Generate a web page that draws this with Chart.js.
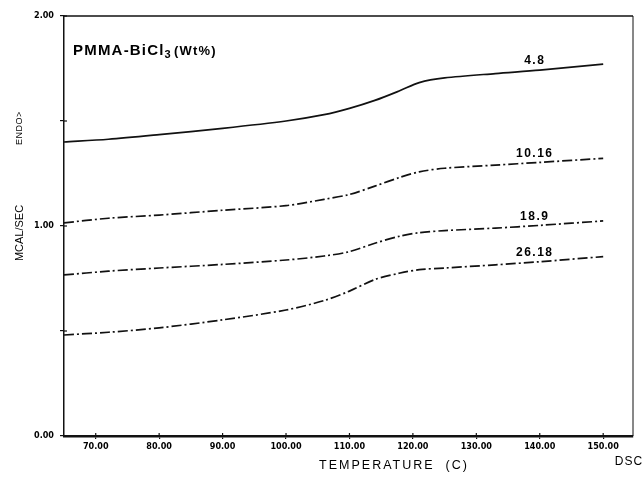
<!DOCTYPE html>
<html>
<head>
<meta charset="utf-8">
<script src="https://cdn.jsdelivr.net/npm/chart.js@4/dist/chart.umd.min.js"></script>
<style>
  html, body { margin: 0; padding: 0; background: #fff; }
  #wrap { width: 643px; height: 484px; }
</style>
</head>
<body>
<div id="wrap"><canvas id="c" width="643" height="484"></canvas></div>
<script>
// ---- Data ----
const temps = [65, 72, 80, 90, 100, 106, 110, 114, 118, 121, 125, 133, 140, 150];
const seriesNames = ['4.8', '10.16', '18.9', '26.18'];
const s4_8   = [1.400, 1.413, 1.435, 1.465, 1.500, 1.530, 1.560, 1.598, 1.645, 1.683, 1.705, 1.726, 1.742, 1.771];
const s10_16 = [1.015, 1.037, 1.052, 1.075, 1.097, 1.127, 1.150, 1.190, 1.232, 1.258, 1.275, 1.290, 1.303, 1.322];
const s18_9  = [0.767, 0.785, 0.800, 0.817, 0.838, 0.857, 0.878, 0.918, 0.952, 0.968, 0.978, 0.990, 1.003, 1.024];
const s26_18 = [0.481, 0.494, 0.515, 0.553, 0.600, 0.645, 0.690, 0.745, 0.776, 0.792, 0.800, 0.815, 0.830, 0.854];
const xTicks = [70, 80, 90, 100, 110, 120, 130, 140, 150];
const yTicks = [0, 0.5, 1.0, 1.5, 2.0];
const yLabelled = [0, 1.0, 2.0];
const titleMain = 'PMMA-BiCl';
const titleSub = '3';
const titleTail = '(Wt%)';
const xTitle = 'TEMPERATURE  (C)';
const yTitle = 'MCAL/SEC';
const yTitle2 = 'ENDO>';
const cornerText = 'DSC';

const allSeries = [s4_8, s10_16, s18_9, s26_18];
const dashes = [[], [10, 3, 2, 3], [10, 3, 2, 3], [10, 3, 2, 3]];
const labelIndex = 12;

const datasets = allSeries.map((vals, i) => ({
  label: seriesNames[i],
  data: temps.map((t, k) => ({ x: t, y: vals[k] })),
  borderColor: '#111',
  borderWidth: 1.7,
  borderDash: dashes[i],
  pointRadius: 0,
  fill: false,
  tension: 0.3
}));

const tickFont = { family: "'DejaVu Sans Condensed', 'Liberation Sans Narrow', sans-serif", size: 9, weight: 'bold' };

const decor = {
  id: 'decor',
  afterDraw(chart) {
    const ctx = chart.ctx;
    const a = chart.chartArea;
    const xs = chart.scales.x, ys = chart.scales.y;
    ctx.save();
    ctx.strokeStyle = '#111';
    // top and right frame
    ctx.lineWidth = 1.5;
    ctx.beginPath();
    ctx.moveTo(a.left, a.top); ctx.lineTo(a.right, a.top);
    ctx.stroke();
    ctx.lineWidth = 1;
    ctx.beginPath();
    ctx.moveTo(a.right, a.top); ctx.lineTo(a.right, a.bottom);
    ctx.stroke();
    // inner tick marks on y axis
    ctx.lineWidth = 1.2;
    yTicks.forEach(v => {
      const y = ys.getPixelForValue(v);
      ctx.beginPath(); ctx.moveTo(a.left, y); ctx.lineTo(a.left + 3, y); ctx.stroke();
    });
    // inner tick marks on x axis
    xTicks.forEach(v => {
      const x = xs.getPixelForValue(v);
      ctx.beginPath(); ctx.moveTo(x, a.bottom); ctx.lineTo(x, a.bottom - 3); ctx.stroke();
    });

    ctx.fillStyle = '#000';
    // title
    ctx.textBaseline = 'alphabetic';
    ctx.textAlign = 'left';
    ctx.font = "bold 15px 'Liberation Sans', Arial, sans-serif";
    ctx.letterSpacing = '1.2px';
    let tx = 73, ty = 55;
    ctx.fillText(titleMain, tx, ty);
    tx += ctx.measureText(titleMain).width;
    ctx.font = "bold 11px 'Liberation Sans', Arial, sans-serif";
    ctx.fillText(titleSub, tx, ty + 3);
    tx += ctx.measureText(titleSub).width + 2;
    ctx.font = "bold 13px 'Liberation Sans', Arial, sans-serif";
    ctx.fillText(titleTail, tx, ty);

    // series labels
    ctx.font = "bold 12px 'Liberation Sans', Arial, sans-serif";
    ctx.letterSpacing = '1.5px';
    ctx.textAlign = 'center';
    ctx.textBaseline = 'middle';
    allSeries.forEach((vals, i) => {
      const x = xs.getPixelForValue(temps[labelIndex]) - 5;
      const y = ys.getPixelForValue(vals[labelIndex]) - 9;
      ctx.fillText(seriesNames[i], x, y);
    });

    // axis titles
    ctx.font = "12.5px 'Liberation Sans', Arial, sans-serif";
    ctx.letterSpacing = '2px';
    ctx.fillText(xTitle, 394, 466);
    ctx.font = "12px 'Liberation Sans', Arial, sans-serif";
    ctx.letterSpacing = '1px';
    ctx.fillText(cornerText, 629, 462);

    ctx.save();
    ctx.translate(20, 233);
    ctx.rotate(-Math.PI / 2);
    ctx.font = "11px 'Liberation Sans', Arial, sans-serif";
    ctx.letterSpacing = '0px';
    ctx.fillText(yTitle, 0, 0);
    ctx.restore();

    ctx.save();
    ctx.translate(20, 128);
    ctx.rotate(-Math.PI / 2);
    ctx.font = "9px 'Liberation Sans', Arial, sans-serif";
    ctx.letterSpacing = '0.5px';
    ctx.fillText(yTitle2, 0, 0);
    ctx.restore();

    ctx.restore();
  }
};

new Chart(document.getElementById('c'), {
  type: 'line',
  data: { datasets },
  options: {
    responsive: false,
    animation: false,
    devicePixelRatio: 1,
    layout: { padding: { top: 16, right: 10, left: 0, bottom: 0 } },
    plugins: { legend: { display: false }, tooltip: { enabled: false }, title: { display: false } },
    scales: {
      x: {
        type: 'linear',
        min: 65,
        max: 154.7,
        afterBuildTicks: s => { s.ticks = xTicks.map(v => ({ value: v })); },
        afterFit: s => { s.height = 48; },
        ticks: {
          autoSkip: false, maxRotation: 0, minRotation: 0,
          color: '#000', font: tickFont, padding: 2,
          callback: v => Number(v).toFixed(2)
        },
        grid: { display: true, drawOnChartArea: false, drawTicks: true, tickLength: 3, color: '#111', lineWidth: 1.2 },
        border: { display: true, color: '#111', width: 2.5 }
      },
      y: {
        type: 'linear',
        min: 0,
        max: 2,
        afterBuildTicks: s => { s.ticks = yTicks.map(v => ({ value: v })); },
        afterFit: s => { s.width = 64; },
        ticks: {
          autoSkip: false, color: '#000', font: tickFont, padding: 6,
          callback: v => (yLabelled.includes(v) ? Number(v).toFixed(2) : '')
        },
        grid: { display: true, drawOnChartArea: false, drawTicks: true, tickLength: 4, color: '#111', lineWidth: 1.2 },
        border: { display: true, color: '#111', width: 1.5 }
      }
    }
  },
  plugins: [decor]
});
</script>
</body>
</html>
